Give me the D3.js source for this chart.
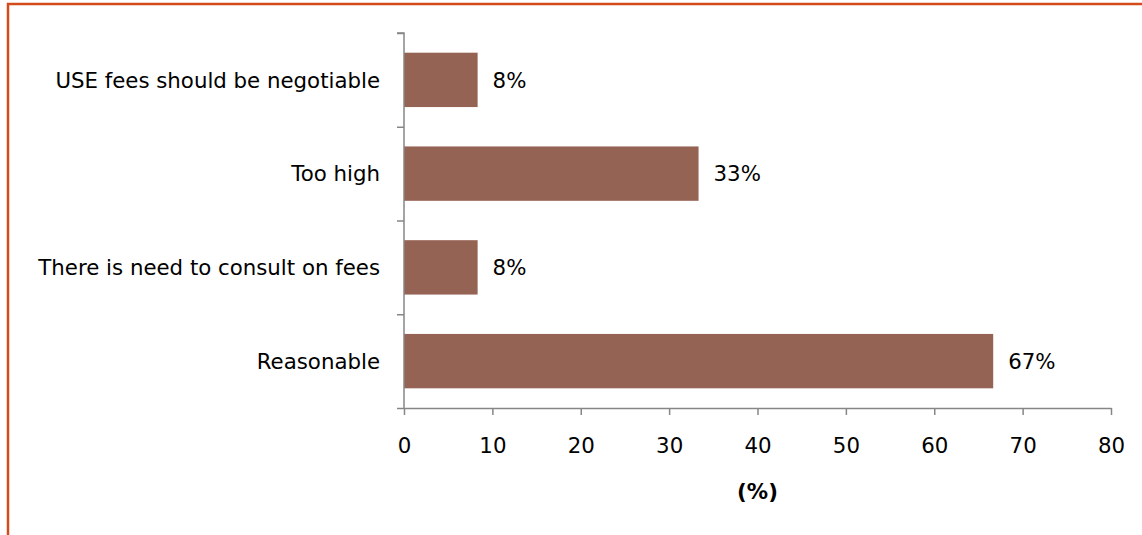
<!DOCTYPE html>
<html>
<head>
<meta charset="utf-8">
<script src="https://cdn.jsdelivr.net/npm/d3@7"></script>
<style>
  html, body { margin: 0; padding: 0; background: #fff; }
  svg { display: block; }
</style>
</head>
<body>
<svg id="chart" width="1142" height="535"></svg>
<script>
// Survey responses on fees, listed top to bottom
const categories = [
  "USE fees should be negotiable",
  "Too high",
  "There is need to consult on fees",
  "Reasonable"
];
const values = [8.33, 33.33, 8.33, 66.67];
const xTicks = [0, 10, 20, 30, 40, 50, 60, 70, 80];
const xTitle = "(%)";

(function () {
  const svg = d3.select("#chart");
  const font = "'DejaVu Sans', Verdana, sans-serif";
  const fontSize = 21.3;
  const axisColor = "#868686";
  const barColor = "#956353";

  // Frame around the chart area
  svg.append("rect")
    .attr("x", 8).attr("y", 4)
    .attr("width", 1142).attr("height", 540)
    .attr("fill", "none")
    .attr("stroke", "#d44b1b")
    .attr("stroke-width", 2.5);

  const plotLeft = 404, plotRight = 1111, plotTop = 33, plotBottom = 408;

  const x = d3.scaleLinear().domain([0, 80]).range([plotLeft, plotRight]);
  const y = d3.scaleBand()
    .domain(categories)
    .range([plotTop, plotBottom])
    .paddingInner(0.42)
    .paddingOuter(0.21);
  // Band boundaries for the category axis tick marks
  const yEdge = d3.scaleLinear().domain([0, categories.length]).range([plotTop, plotBottom]);

  // Bars
  svg.append("g").selectAll("rect")
    .data(values)
    .join("rect")
    .attr("x", x(0))
    .attr("y", (d, i) => y(categories[i]))
    .attr("width", d => x(d) - x(0))
    .attr("height", y.bandwidth())
    .attr("fill", barColor);

  // Value labels
  svg.append("g").selectAll("text")
    .data(values)
    .join("text")
    .attr("x", d => x(d) + 15)
    .attr("y", (d, i) => y(categories[i]) + y.bandwidth() / 2)
    .attr("dy", "0.36em")
    .attr("font-family", font)
    .attr("font-size", fontSize)
    .attr("fill", "#000")
    .text(d => Math.round(d) + "%");

  // Category axis (tick marks at band edges)
  const yAxis = svg.append("g")
    .attr("transform", `translate(${plotLeft},0)`)
    .call(d3.axisLeft(yEdge)
      .tickValues(d3.range(categories.length + 1))
      .tickSize(7)
      .tickFormat(""));
  yAxis.select(".domain").attr("stroke", axisColor).attr("stroke-width", 1.5)
    .attr("d", `M-7,${plotTop}H0V${plotBottom}`);
  yAxis.selectAll(".tick line").attr("stroke", axisColor).attr("stroke-width", 1.5);

  // Category labels
  svg.append("g").selectAll("text")
    .data(categories)
    .join("text")
    .attr("x", plotLeft - 24)
    .attr("y", d => y(d) + y.bandwidth() / 2)
    .attr("dy", "0.36em")
    .attr("text-anchor", "end")
    .attr("font-family", font)
    .attr("font-size", fontSize)
    .attr("fill", "#000")
    .text(d => d);

  // Value axis
  const xAxis = svg.append("g")
    .attr("transform", `translate(0,${plotBottom})`)
    .call(d3.axisBottom(x)
      .tickValues(xTicks)
      .tickSize(7)
      .tickPadding(23)
      .tickSizeOuter(0)
      .tickFormat(d3.format("d")));
  xAxis.select(".domain").attr("stroke", axisColor).attr("stroke-width", 1.5);
  xAxis.selectAll(".tick line").attr("stroke", axisColor).attr("stroke-width", 1.5);
  xAxis.selectAll(".tick text")
    .attr("font-family", font)
    .attr("font-size", fontSize)
    .attr("fill", "#000");

  // Axis title
  svg.append("text")
    .attr("x", (plotLeft + plotRight) / 2)
    .attr("y", 499)
    .attr("text-anchor", "middle")
    .attr("font-family", font)
    .attr("font-size", fontSize)
    .attr("font-weight", "bold")
    .attr("fill", "#000")
    .text(xTitle);
})();
</script>
</body>
</html>
